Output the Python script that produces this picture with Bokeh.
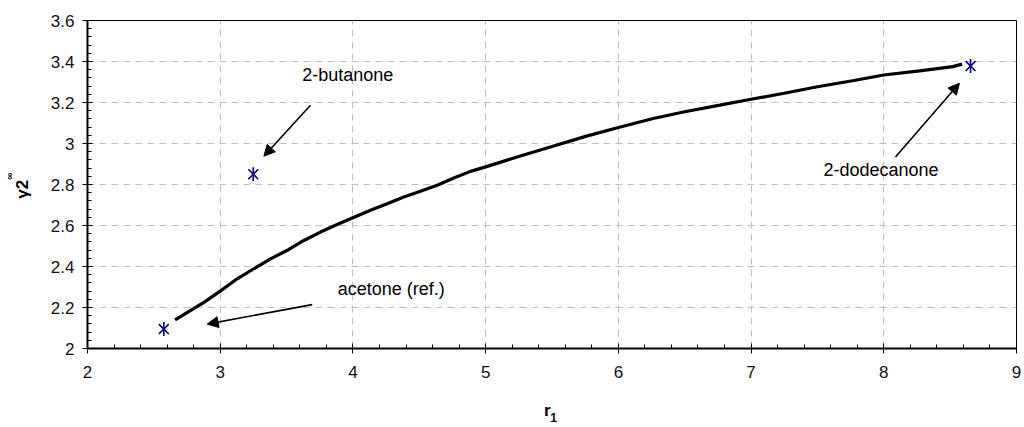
import numpy as np
from bokeh.plotting import figure
from bokeh.models import (Range1d, FixedTicker, CustomJSTickFormatter, Label,
                          Arrow, NormalHead, ColumnDataSource, LinearAxis)
from bokeh.embed import file_html
from bokeh.resources import INLINE

# ---- data ----
curve_r1 = [2.66, 2.877, 3.0, 3.128, 3.253, 3.379, 3.502, 3.63, 3.756, 3.881,
            4.0, 4.132, 4.258, 4.383, 4.509, 4.635, 4.76, 4.886, 5.0, 5.255,
            5.5, 5.76, 6.0, 6.263, 6.5, 6.765, 7.0, 7.25, 7.5, 7.765, 8.0,
            8.27, 8.52, 8.59]
curve_gamma = [2.14, 2.225, 2.28, 2.34, 2.389, 2.437, 2.478, 2.527, 2.568,
               2.605, 2.638, 2.674, 2.706, 2.739, 2.767, 2.796, 2.832, 2.864,
               2.886, 2.938, 2.985, 3.036, 3.078, 3.122, 3.155, 3.187, 3.216,
               3.245, 3.277, 3.306, 3.334, 3.354, 3.375, 3.387]

compounds = ["acetone (ref.)", "2-butanone", "2-dodecanone"]
comp_r1 = [2.575, 3.249, 8.654]
comp_gamma = [2.095, 2.85, 3.378]

x_ticks = [2, 3, 4, 5, 6, 7, 8, 9]
y_ticks = [2.0, 2.2, 2.4, 2.6, 2.8, 3.0, 3.2, 3.4, 3.6]

FONT = "Liberation Sans"
NB = "\u00a0"

p = figure(width=1024, height=427, output_backend="svg", toolbar_location=None,
           x_range=Range1d(2, 9), y_range=Range1d(2, 3.6),
           min_border_left=87, min_border_right=8, min_border_top=20,
           min_border_bottom=79)
p.background_fill_color = "white"
p.border_fill_color = "white"
p.outline_line_color = "black"
p.outline_line_width = 1

x_minor = [round(2 + 0.2 * i, 2) for i in range(36)]
y_minor = [round(2 + 0.04 * i, 2) for i in range(41)]
p.xaxis.ticker = FixedTicker(ticks=x_ticks, minor_ticks=x_minor)
p.yaxis.ticker = FixedTicker(ticks=y_ticks, minor_ticks=y_minor)
p.yaxis.formatter = CustomJSTickFormatter(code="return String(Math.round(tick*10)/10);")
p.xaxis.formatter = CustomJSTickFormatter(code="return String(Math.round(tick));")

for ax in (p.xaxis, p.yaxis):
    ax.axis_line_color = "black"
    ax.axis_line_width = 2
    ax.major_tick_line_color = "black"
    ax.minor_tick_line_color = "black"
    ax.major_tick_in = 5
    ax.major_tick_out = 5
    ax.minor_tick_in = 4
    ax.minor_tick_out = 0
    ax.major_label_text_font = FONT
    ax.major_label_text_font_size = "17px"
    ax.major_label_text_color = "#111111"
    ax.axis_label_text_font = FONT
    ax.axis_label_text_font_style = "bold"
    ax.axis_label_text_font_size = "17px"
    ax.axis_label_text_color = "black"
p.xaxis.major_label_standoff = 12
p.yaxis.major_label_standoff = 8

p.xaxis.axis_label = "r" + NB * 2
p.xaxis.axis_label_standoff = 20
p.yaxis.axis_label = "\u03b32" + NB * 2
p.yaxis.axis_label_standoff = 16


def title_axis(text, size, standoff, side):
    ax = LinearAxis(ticker=FixedTicker(ticks=[]), axis_line_color=None,
                    major_tick_line_color=None, minor_tick_line_color=None,
                    major_tick_in=0, major_tick_out=0,
                    minor_tick_in=0, minor_tick_out=0,
                    major_label_standoff=0,
                    major_label_text_font_size="0px",
                    axis_label=text, axis_label_standoff=standoff,
                    axis_label_text_font=FONT, axis_label_text_font_size=size,
                    axis_label_text_font_style="bold",
                    axis_label_text_color="black")
    p.add_layout(ax, side)


# superscript of the y title and subscript of the x title
title_axis(NB * 6 + "\u221e", "10px", -5, "left")
title_axis(NB + "1", "12px", -12, "below")

for g in (p.xgrid, p.ygrid):
    g.grid_line_color = "#c0c0c0"
    g.grid_line_dash = "7 5"
    g.grid_line_width = 1
p.xgrid.ticker = FixedTicker(ticks=x_ticks)
p.ygrid.ticker = FixedTicker(ticks=y_ticks)

# curve
p.line(curve_r1, curve_gamma, line_color="black", line_width=3.2)

# compound markers (6-arm star: x + vertical dash)
src = ColumnDataSource(dict(x=comp_r1, y=comp_gamma, name=compounds))
p.scatter("x", "y", source=src, marker="x", size=14, line_color="#000080",
          line_width=1.6)
p.scatter("x", "y", source=src, marker="dash", size=14, angle=np.pi / 2,
          line_color="#000080", line_width=1.6)

# annotations
def arrow(x0, y0, x1, y1):
    p.add_layout(Arrow(end=NormalHead(size=11, fill_color="black", line_color="black"),
                       x_start=x0, y_start=y0, x_end=x1, y_end=y1,
                       line_color="black", line_width=1.6))

arrow(3.680, 3.187, 3.329, 2.938)
arrow(3.693, 2.214, 2.902, 2.119)
arrow(8.088, 2.934, 8.57, 3.294)

def text(x, y, s):
    p.add_layout(Label(x=x, y=y, text=s, text_font=FONT, text_font_size="18px",
                       text_align="left", text_baseline="middle",
                       text_color="black"))

text(3.618, 3.334, compounds[1])
text(3.886, 2.292, compounds[0])
text(7.546, 2.869, compounds[2])

open("out.html", "w").write(file_html(p, INLINE))
